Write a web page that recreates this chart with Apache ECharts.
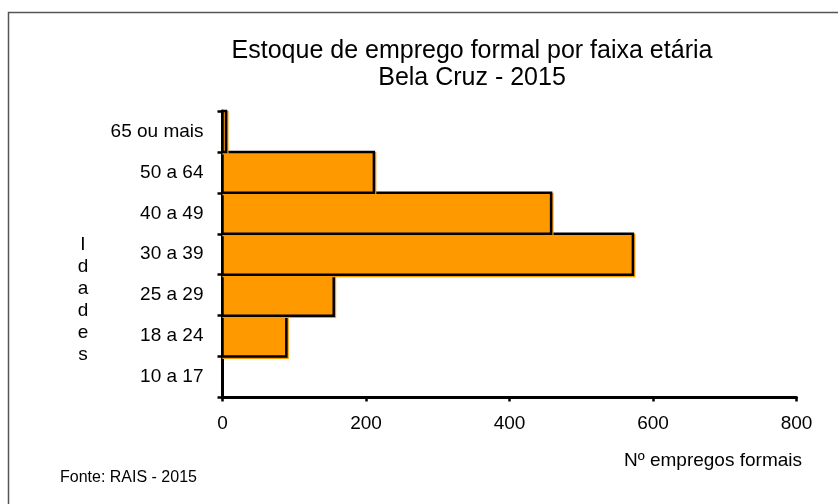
<!DOCTYPE html>
<html>
<head>
<meta charset="utf-8">
<script src="https://cdn.jsdelivr.net/npm/echarts@6/dist/echarts.min.js"></script>
<style>
  html, body { margin: 0; padding: 0; background: #fff; }
  #chart { width: 838px; height: 504px; }
</style>
</head>
<body>
<div id="chart"></div>
<script>
// Data (categories listed bottom-to-top, as ECharts draws a category y axis)
const categories = ['10 a 17', '18 a 24', '25 a 29', '30 a 39', '40 a 49', '50 a 64', '65 ou mais'];
const values = [0, 89, 155, 572, 458, 211, 5];
const xTicks = [0, 200, 400, 600, 800];
const titleLines = ['Estoque de emprego formal por faixa etária', 'Bela Cruz - 2015'];
const yAxisName = 'Idades';
const xAxisName = 'Nº empregos formais';
const sourceNote = 'Fonte: RAIS - 2015';

const FONT = '"Liberation Sans", Arial, sans-serif';

const chart = echarts.init(document.getElementById('chart'), null, { renderer: 'canvas' });

chart.setOption({
  backgroundColor: '#ffffff',
  animation: false,
  grid: { left: 222.5, right: 41.5, top: 111, bottom: 106.5, containLabel: false },
  xAxis: {
    type: 'value',
    min: xTicks[0],
    max: xTicks[xTicks.length - 1],
    interval: xTicks[1] - xTicks[0],
    axisLine: { show: true, lineStyle: { color: '#000', width: 3 } },
    axisTick: { show: true, length: 4, lineStyle: { color: '#000', width: 2.5 } },
    splitLine: { show: false },
    axisLabel: { color: '#000', fontSize: 19, fontFamily: FONT, margin: 17 }
  },
  yAxis: {
    type: 'category',
    data: categories,
    axisLine: { show: true, lineStyle: { color: '#000', width: 3 } },
    axisTick: { show: true, length: 5, lineStyle: { color: '#000', width: 2.5 } },
    axisLabel: { color: '#000', fontSize: 19, fontFamily: FONT, margin: 19, padding: [3, 0, 0, 0] }
  },
  series: [{
    type: 'custom',
    data: values.map((v, i) => [v, i]),
    encode: { x: 0, y: 1 },
    z: 1,
    renderItem: function (params, api) {
      const val = api.value(0);
      if (!val) return null;
      const start = api.coord([0, api.value(1)]);
      const end = api.coord([val, api.value(1)]);
      const h = api.size([0, 1])[1];
      return {
        type: 'rect',
        shape: { x: start[0], y: start[1] - h / 2, width: end[0] - start[0], height: h },
        style: {
          fill: '#FF9900',
          stroke: '#000',
          lineWidth: 2.5,
          shadowColor: '#FF9900',
          shadowBlur: 0,
          shadowOffsetX: 1.2,
          shadowOffsetY: 1.2
        }
      };
    }
  }],
  graphic: [
    {
      type: 'rect',
      silent: true,
      shape: { x: 8.5, y: 12.5, width: 1000, height: 1000 },
      style: { fill: null, stroke: '#555', lineWidth: 1.5 }
    },
    {
      type: 'text',
      x: 472, y: 64.5,
      style: {
        text: titleLines.join('\n'),
        fontSize: 25, fontFamily: FONT, fill: '#000',
        align: 'center', verticalAlign: 'middle', lineHeight: 26.5
      }
    },
    {
      type: 'text',
      x: 83, y: 300,
      style: {
        text: yAxisName.split('').join('\n'),
        fontSize: 19, fontFamily: FONT, fill: '#000',
        align: 'center', verticalAlign: 'middle', lineHeight: 22
      }
    },
    {
      type: 'text',
      x: 713, y: 461,
      style: {
        text: xAxisName,
        fontSize: 19, fontFamily: FONT, fill: '#000',
        align: 'center', verticalAlign: 'middle'
      }
    },
    {
      type: 'text',
      x: 60, y: 477.5,
      style: {
        text: sourceNote,
        fontSize: 16, fontFamily: FONT, fill: '#000',
        align: 'left', verticalAlign: 'middle'
      }
    }
  ]
});
</script>
</body>
</html>
